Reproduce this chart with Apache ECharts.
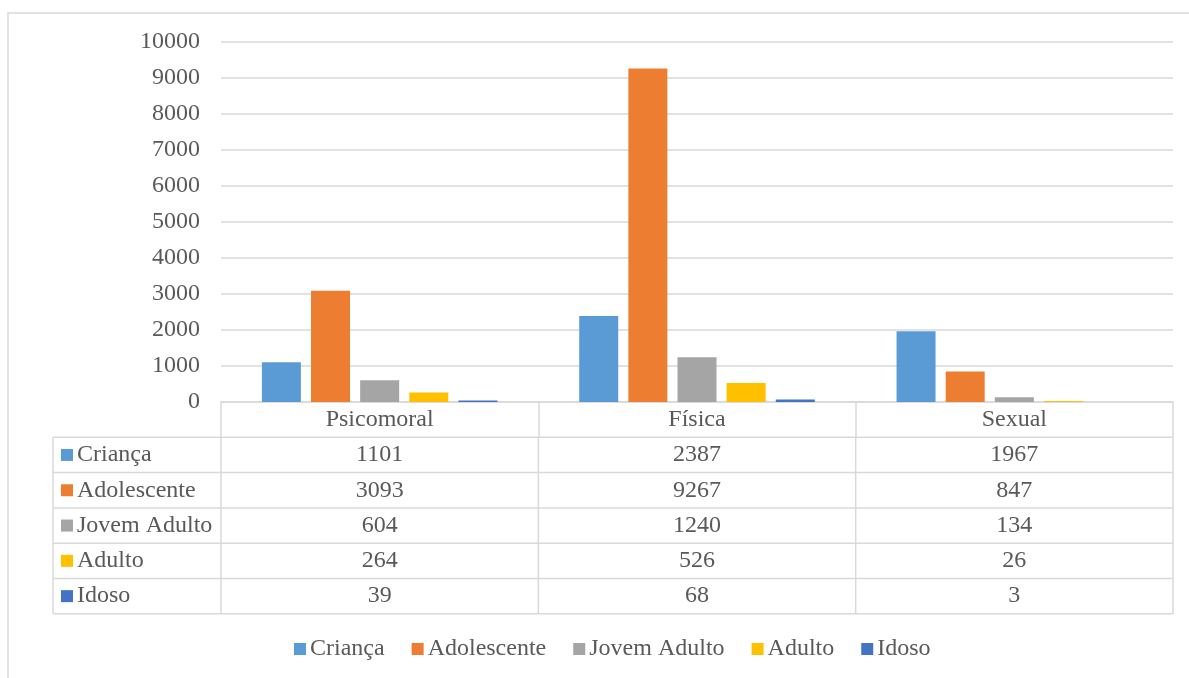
<!DOCTYPE html>
<html>
<head>
<meta charset="utf-8">
<script src="https://cdn.jsdelivr.net/npm/echarts@6/dist/echarts.min.js"></script>
<style>
html,body{margin:0;padding:0;background:#fff;}
#chart{width:1189px;height:678px;}
</style>
</head>
<body>
<div id="chart"></div>
<script>
var categories = ['Psicomoral', 'Física', 'Sexual'];
var seriesNames = ['Criança', 'Adolescente', 'Jovem Adulto', 'Adulto', 'Idoso'];
var crianca = [1101, 2387, 1967];
var adolescente = [3093, 9267, 847];
var jovemAdulto = [604, 1240, 134];
var adulto = [264, 526, 26];
var idoso = [39, 68, 3];
var yTicks = [0, 1000, 2000, 3000, 4000, 5000, 6000, 7000, 8000, 9000, 10000];

var seriesData = [crianca, adolescente, jovemAdulto, adulto, idoso];
var colors = ['#5B9BD5', '#ED7D31', '#A5A5A5', '#FFC000', '#4472C4'];
var FONT = '"Liberation Serif", "Times New Roman", serif';
var TXT = '#595959';
var LINE = '#D9D9D9';

var chart = echarts.init(document.getElementById('chart'), null, {renderer: 'canvas'});

var option = {
  animation: false,
  backgroundColor: '#ffffff',
  color: colors,
  textStyle: {fontFamily: FONT},
  grid: {left: 221, right: 16, top: 42, bottom: 276, containLabel: false},
  legend: {
    data: seriesNames,
    left: 289,
    top: 632,
    icon: 'rect',
    itemWidth: 12,
    itemHeight: 12,
    itemGap: 27,
    textStyle: {fontSize: 24, color: TXT, fontFamily: FONT, padding: [0, 0, 0, -1]}
  },
  xAxis: {
    type: 'category',
    data: categories,
    axisLine: {show: true, lineStyle: {color: LINE, width: 1.5}},
    axisTick: {show: true, interval: 0, length: 35, lineStyle: {color: LINE, width: 1.5}},
    axisLabel: {fontSize: 24, color: TXT, fontFamily: FONT, margin: 6, lineHeight: 24}
  },
  yAxis: {
    type: 'value',
    min: yTicks[0],
    max: yTicks[yTicks.length - 1],
    interval: yTicks[1] - yTicks[0],
    axisLine: {show: false},
    axisTick: {show: false},
    splitLine: {lineStyle: {color: LINE, width: 1.5}},
    axisLabel: {fontSize: 24, color: TXT, fontFamily: FONT, margin: 21, formatter: function (v) { return String(v); }}
  },
  series: seriesNames.map(function (name, i) {
    return {
      name: name,
      type: 'bar',
      data: seriesData[i],
      barWidth: 39,
      barGap: '26%',
      itemStyle: {color: colors[i]}
    };
  })
};

chart.setOption(option);

// Build the data table from axis coordinates
var c0 = chart.convertToPixel({xAxisIndex: 0}, categories[0]);
var c1 = chart.convertToPixel({xAxisIndex: 0}, categories[1]);
var band = c1 - c0;
var xStart = c0 - band / 2;
var xEnd = xStart + band * categories.length;
var y0 = chart.convertToPixel({yAxisIndex: 0}, 0);
var rowH = 35.3;
var tableLeft = 53;
var nRows = seriesNames.length;
var yBottom = y0 + rowH * (nRows + 1);

var g = [];
// outer frame
g.push({type: 'rect', shape: {x: 8, y: 13, width: 1400, height: 1000}, style: {fill: null, stroke: LINE, lineWidth: 1.5}, silent: true, z: 0});
// horizontal lines
for (var k = 1; k <= nRows + 1; k++) {
  var yy = y0 + rowH * k;
  g.push({type: 'line', shape: {x1: tableLeft, y1: yy, x2: xEnd, y2: yy}, style: {stroke: LINE, lineWidth: 1.5}, silent: true});
}
// vertical lines
g.push({type: 'line', shape: {x1: tableLeft, y1: y0 + rowH, x2: tableLeft, y2: yBottom}, style: {stroke: LINE, lineWidth: 1.5}, silent: true});
for (var c = 0; c <= categories.length; c++) {
  var xx = xStart + band * c;
  g.push({type: 'line', shape: {x1: xx, y1: y0 + rowH, x2: xx, y2: yBottom}, style: {stroke: LINE, lineWidth: 1.5}, silent: true});
}
// row labels and values
for (var r = 0; r < nRows; r++) {
  var cy = y0 + rowH * (r + 1) + rowH / 2;
  g.push({type: 'rect', shape: {x: 61, y: cy - 6, width: 12, height: 12}, style: {fill: colors[r]}, silent: true});
  g.push({type: 'text', x: 77, y: cy, style: {text: seriesNames[r], fill: TXT, font: '24px ' + FONT, textAlign: 'left', textVerticalAlign: 'middle'}, silent: true});
  for (var c2 = 0; c2 < categories.length; c2++) {
    var cx = chart.convertToPixel({xAxisIndex: 0}, categories[c2]);
    g.push({type: 'text', x: cx, y: cy, style: {text: String(seriesData[r][c2]), fill: TXT, font: '24px ' + FONT, textAlign: 'center', textVerticalAlign: 'middle'}, silent: true});
  }
}
chart.setOption({graphic: g});
</script>
</body>
</html>
